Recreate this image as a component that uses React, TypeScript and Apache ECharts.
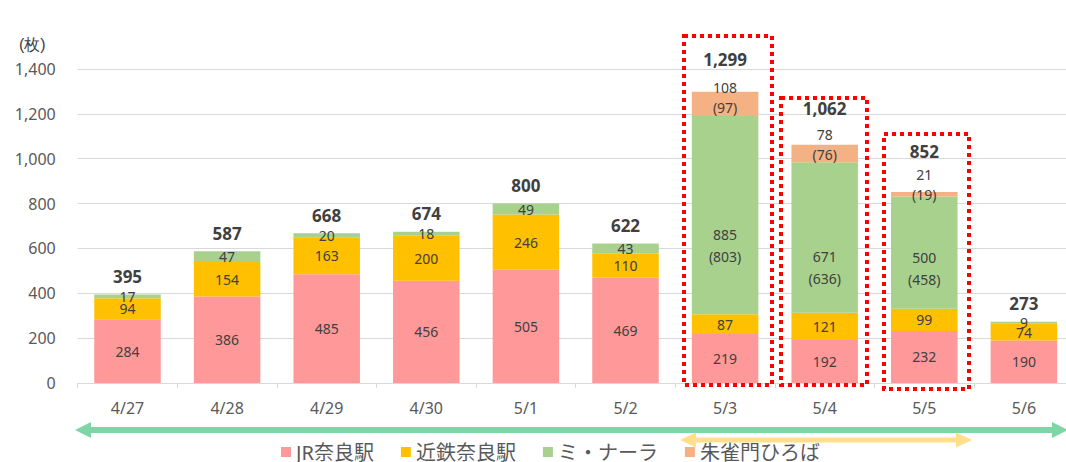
import React, { useEffect, useRef } from "react";
import * as echarts from "echarts";

const categories = ["4/27", "4/28", "4/29", "4/30", "5/1", "5/2", "5/3", "5/4", "5/5", "5/6"];
const jrValues = [284, 386, 485, 456, 505, 469, 219, 192, 232, 190];
const kintetsuValues = [94, 154, 163, 200, 246, 110, 87, 121, 99, 74];
const minaraValues = [17, 47, 20, 18, 49, 43, 885, 671, 500, 9];
const minaraParen = [null, null, null, null, null, null, 803, 636, 458, null];
const suzakuValues = [null, null, null, null, null, null, 108, 78, 21, null];
const suzakuParen = [null, null, null, null, null, null, 97, 76, 19, null];
const totals = [395, 587, 668, 674, 800, 622, 1299, 1062, 852, 273];
const seriesNames = ["JR奈良駅", "近鉄奈良駅", "ミ・ナーラ", "朱雀門ひろば"];
const yMin = 0;
const yMax = 1400;
const yInterval = 200;
const unitLabel = "(枚)";

// layout-only tweaks (label offsets in px)
const minaraLabelOffset = [0, 0, 0, 0, 0, 0, 30, 30, 16, 0];
const suzakuLabelOffset = [0, 0, 0, 0, 0, 0, -6, -9, -10, 0];
const totalLabelDistance = [9, 9, 9, 9, 9, 9, 23, 27, 31, 9];

const FONT = "'Noto Sans', 'Noto Sans CJK JP', sans-serif";
const LABEL_COLOR = "#404040";

function arrowPoints(x0: number, x1: number, y: number, shaft: number, head: number, headLen: number) {
  return [
    [x0, y],
    [x0 + headLen, y - head],
    [x0 + headLen, y - shaft],
    [x1 - headLen, y - shaft],
    [x1 - headLen, y - head],
    [x1, y],
    [x1 - headLen, y + head],
    [x1 - headLen, y + shaft],
    [x0 + headLen, y + shaft],
    [x0 + headLen, y + head],
  ];
}

export default function App() {
  const ref = useRef<HTMLDivElement>(null);
  useEffect(() => {
    if (!ref.current) return;
    const chart = echarts.init(ref.current, null, { renderer: "svg" });
    const insideLabel = {
      show: true,
      position: "inside",
      color: LABEL_COLOR,
      fontSize: 14,
      fontFamily: FONT,
    };
    const withParen = (vals: (number | null)[], paren: (number | null)[], offs: number[]) =>
      vals.map((v, i) =>
        v == null
          ? null
          : {
              value: v,
              label: {
                offset: [0, offs[i]],
                formatter: paren[i] != null ? `${v}\n(${paren[i]})` : `${v}`,
              },
            }
      );

    const option: any = {
      animation: false,
      textStyle: { fontFamily: FONT },
      grid: { left: 77.7, top: 69, width: 996, height: 314 },
      legend: {
        data: seriesNames,
        left: 281,
        top: 442,
        icon: "rect",
        itemWidth: 10,
        itemHeight: 10,
        itemGap: 27,
        padding: 0,
        textStyle: { fontSize: 20, color: "#595959", fontFamily: FONT },
      },
      xAxis: {
        type: "category",
        data: categories,
        axisLine: { lineStyle: { color: "#D9D9D9" } },
        axisTick: { show: true, length: 5, lineStyle: { color: "#D9D9D9" } },
        axisLabel: { color: "#595959", fontSize: 16, margin: 17, fontFamily: FONT },
      },
      yAxis: {
        type: "value",
        min: yMin,
        max: yMax,
        interval: yInterval,
        axisLine: { show: false },
        axisTick: { show: false },
        splitLine: { lineStyle: { color: "#D9D9D9" } },
        axisLabel: {
          color: "#595959",
          fontSize: 16,
          margin: 22,
          fontFamily: FONT,
          formatter: (v: number) => v.toLocaleString("en-US"),
        },
      },
      series: [
        {
          name: seriesNames[0],
          type: "bar",
          stack: "total",
          barWidth: 66.5,
          data: jrValues,
          itemStyle: { color: "#FF9999" },
          label: insideLabel,
        },
        {
          name: seriesNames[1],
          type: "bar",
          stack: "total",
          data: kintetsuValues,
          itemStyle: { color: "#FFC000" },
          label: insideLabel,
        },
        {
          name: seriesNames[2],
          type: "bar",
          stack: "total",
          data: withParen(minaraValues, minaraParen, minaraLabelOffset),
          itemStyle: { color: "#A9D18E" },
          label: { ...insideLabel, lineHeight: 22 },
        },
        {
          name: seriesNames[3],
          type: "bar",
          stack: "total",
          data: withParen(suzakuValues, suzakuParen, suzakuLabelOffset),
          itemStyle: { color: "#F4B183" },
          label: { ...insideLabel, lineHeight: 20 },
        },
        {
          name: "合計",
          type: "line",
          data: totals.map((t, i) => ({ value: t, label: { distance: totalLabelDistance[i] } })),
          symbol: "circle",
          symbolSize: 1,
          showSymbol: true,
          silent: true,
          itemStyle: { color: "rgba(0,0,0,0)" },
          lineStyle: { color: "rgba(0,0,0,0)", width: 0 },
          label: {
            show: true,
            position: "top",
            color: LABEL_COLOR,
            fontSize: 17,
            fontWeight: "bold",
            fontFamily: FONT,
            formatter: (p: any) => Number(p.value).toLocaleString("en-US"),
          },
          z: 10,
        },
      ],
      graphic: [
        {
          type: "text",
          left: 19,
          top: 36,
          style: { text: unitLabel, fontSize: 16, fill: "#404040", font: `16px ${FONT}` },
        },
        {
          type: "polygon",
          shape: { points: arrowPoints(75, 1068, 430, 3, 8, 16) },
          style: { fill: "#7ED6A6" },
        },
        {
          type: "polygon",
          shape: { points: arrowPoints(680, 972, 440, 2.5, 7.5, 16) },
          style: { fill: "#FFE08A" },
        },
        ...[
          [684, 36, 772, 385],
          [781, 98, 867, 385],
          [884, 134, 969, 389],
        ].map(([x0, y0, x1, y1]) => ({
          type: "rect",
          shape: { x: x0, y: y0, width: x1 - x0, height: y1 - y0 },
          style: { fill: "none", stroke: "#FF0000", lineWidth: 4, lineDash: [4, 4] },
          z: 100,
        })),
      ],
    };
    chart.setOption(option);
    return () => chart.dispose();
  }, []);
  return (
    <div
      style={{ position: "absolute", left: 0, top: 0, width: 1066, height: 462, overflow: "hidden", background: "#fff" }}
    >
      <div ref={ref} style={{ width: 1080, height: 462 }} />
    </div>
  );
}
